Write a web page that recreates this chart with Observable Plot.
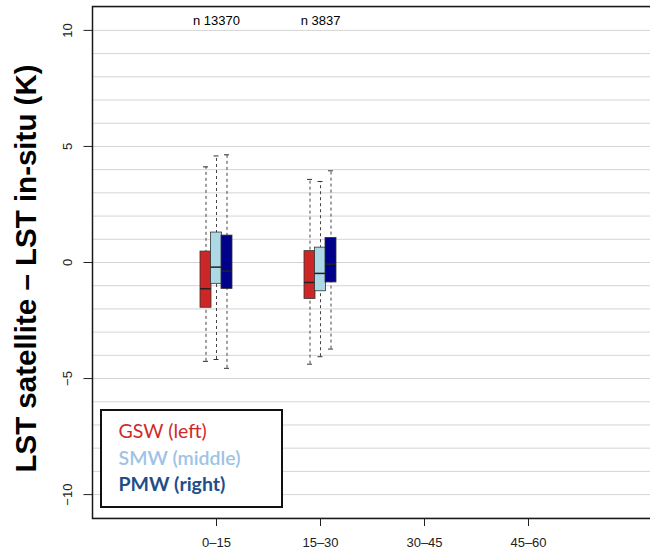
<!DOCTYPE html>
<html><head><meta charset="utf-8">
<script src="https://cdn.jsdelivr.net/npm/d3@7"></script>
<script src="https://cdn.jsdelivr.net/npm/@observablehq/plot@0.6"></script>
<style>
body{margin:0;background:#fff;}
#wrap{position:relative;width:650px;height:553px;overflow:hidden;}
#wrap svg{position:absolute;left:0;top:0;}
#legend{position:absolute;left:99.5px;top:409px;width:183.5px;height:98.5px;border:2.5px solid #111;background:#fff;font-family:Lato,"Open Sans",sans-serif;font-size:19.5px;line-height:26.7px;padding:7px 0 0 17px;box-sizing:border-box;}
#legend div{white-space:nowrap;}
</style></head>
<body><div id="wrap"></div>
<script>
const categories = ["0–15", "15–30", "30–45", "45–60"];
const counts = [
  {cat: "0–15", label: "n 13370"},
  {cat: "15–30", label: "n 3837"}
];
// stats: lower whisker, Q1, median, Q3, upper whisker
const gsw = [
  {cat: "0–15", lo: -4.26, q1: -1.95, med: -1.13, q3: 0.47, hi: 4.12},
  {cat: "15–30", lo: -4.38, q1: -1.57, med: -0.86, q3: 0.49, hi: 3.58}
];
const smw = [
  {cat: "0–15", lo: -4.18, q1: -0.92, med: -0.20, q3: 1.29, hi: 4.59},
  {cat: "15–30", lo: -4.06, q1: -1.24, med: -0.47, q3: 0.64, hi: 3.49}
];
const pmw = [
  {cat: "0–15", lo: -4.56, q1: -1.14, med: -0.37, q3: 1.16, hi: 4.64},
  {cat: "15–30", lo: -3.73, q1: -0.86, med: -0.07, q3: 1.06, hi: 3.95}
];
const yTicks = [-10, -5, 0, 5, 10];
const gridTicks = d3.range(-11, 12);
const series = [
  {data: gsw, fill: "#cd2626", dx: -10.5},
  {data: smw, fill: "#add8e6", dx: 0},
  {data: pmw, fill: "#00008b", dx: 10.5}
];

const boxMarks = series.flatMap(s => [
  Plot.ruleX(s.data, {x: "cat", y1: "lo", y2: "hi", dx: s.dx, stroke: "#444", strokeWidth: 1, strokeDasharray: "3,3"}),
  Plot.tickY(s.data, {x: "cat", y: "lo", dx: s.dx, stroke: "#333", strokeWidth: 1, insetLeft: 2.5, insetRight: 2.5}),
  Plot.tickY(s.data, {x: "cat", y: "hi", dx: s.dx, stroke: "#333", strokeWidth: 1, insetLeft: 2.5, insetRight: 2.5}),
  Plot.barY(s.data, {x: "cat", y1: "q1", y2: "q3", dx: s.dx, fill: s.fill, stroke: "#333", strokeWidth: 0.8, insetLeft: -0.5, insetRight: -0.5}),
  Plot.tickY(s.data, {x: "cat", y: "med", dx: s.dx, stroke: "#222", strokeWidth: 1.5, insetLeft: -0.5, insetRight: -0.5})
]);

const chart = Plot.plot({
  width: 650,
  height: 553,
  marginLeft: 92,
  marginRight: -3,
  marginTop: 6,
  marginBottom: 35,
  style: {fontFamily: "'Liberation Sans', Arial, sans-serif", background: "#fff"},
  x: {type: "band", domain: categories, paddingInner: 0.9, paddingOuter: 1.147, label: null},
  y: {domain: [-11.03, 11.03], label: null},
  marks: [
    Plot.gridY(gridTicks, {stroke: "#d4d4d4", strokeOpacity: 1, strokeWidth: 1}),
    Plot.axisY({ticks: yTicks, tickSize: 8.5, tickRotate: -90, fontSize: 13, color: "#222", label: null, tickPadding: 12}),
    Plot.axisX({tickSize: 8, fontSize: 13, color: "#222", label: null, tickPadding: 11}),
    ...boxMarks,
    Plot.frame({stroke: "#1a1a1a", strokeWidth: 1.5}),
    Plot.text(counts, {x: "cat", text: "label", frameAnchor: "top", dy: 9, fontSize: 13, fill: "#000"}),
    Plot.text(["LST satellite – LST in-situ (K)"], {frameAnchor: "left", dx: -66, dy: 6, rotate: -90, fontSize: 29.5, fontWeight: "bold", fill: "#000", textAnchor: "middle", lineAnchor: "middle"})
  ]
});
const wrap = document.getElementById("wrap");
wrap.appendChild(chart);
const legend = document.createElement("div");
legend.id = "legend";
legend.innerHTML = `<div style="color:#cf2a2a">GSW (left)</div>
<div style="color:#9dc3e6;font-weight:600">SMW (middle)</div>
<div style="color:#1f4e89;font-weight:700">PMW (right)</div>`;
wrap.appendChild(legend);
</script>
</body></html>
